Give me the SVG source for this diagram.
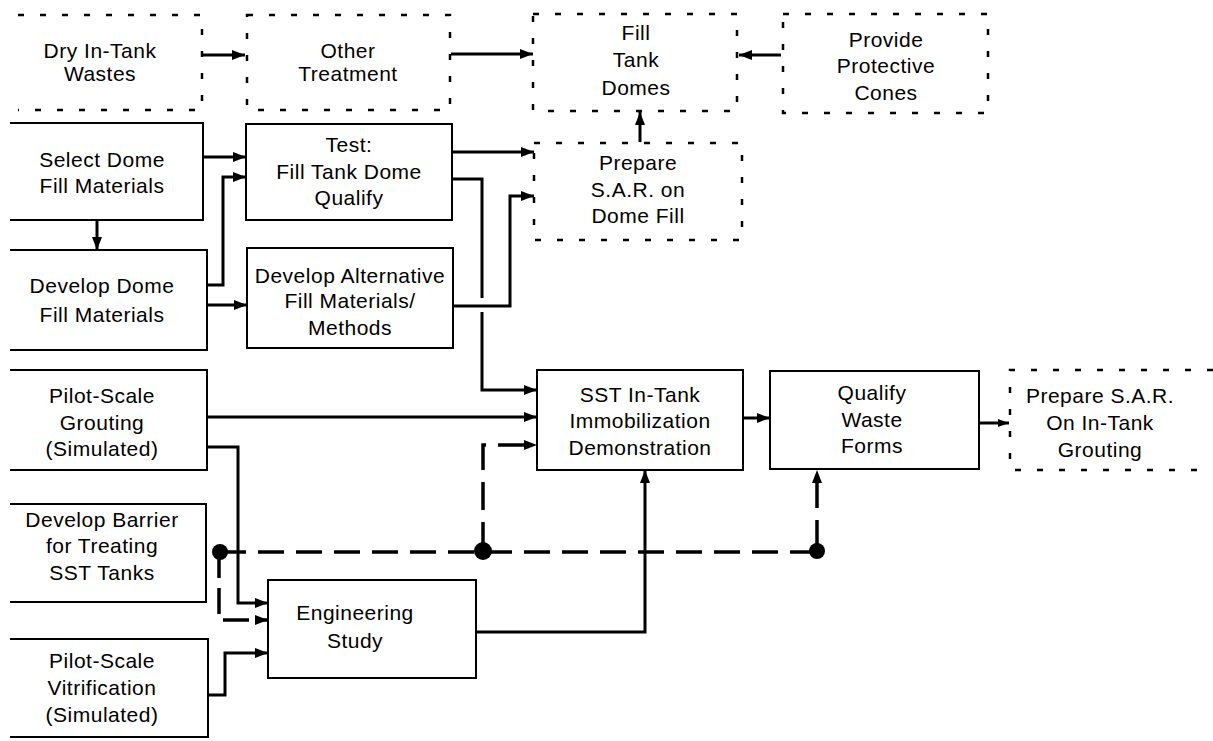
<svg xmlns="http://www.w3.org/2000/svg" width="1213" height="741" viewBox="0 0 1213 741">
<defs>
<marker id="ah" markerUnits="userSpaceOnUse" markerWidth="14" markerHeight="10" refX="13" refY="5" orient="auto">
<path d="M0,0 L13,5 L0,10 z" fill="#000"/>
</marker>
<marker id="ahs" markerUnits="userSpaceOnUse" markerWidth="12" markerHeight="8" refX="11" refY="4" orient="auto">
<path d="M0,0 L11,4 L0,8 z" fill="#000"/>
</marker>
<style>
.box{fill:#fff;stroke:#000;stroke-width:2}
.dbox{fill:none;stroke:#000;stroke-width:2.5;stroke-dasharray:6 16}
.c{fill:none;stroke:#000;stroke-width:3}
.dc{fill:none;stroke:#000;stroke-width:3.5;stroke-dasharray:26 12}
.a{marker-end:url(#ah)}
text{font-family:"Liberation Sans",Arial,sans-serif;font-size:21px;letter-spacing:0.5px;text-anchor:middle;fill:#000}
</style>
</defs>
<rect width="1213" height="741" fill="#fff"/>

<g id="connectors">
<path class="c a" d="M203 55 H245"/>
<path class="c a" d="M451 54 H533"/>
<path class="c a" d="M781 55 H739"/>
<path class="c a" d="M640 142 V112"/>
<path class="c a" d="M203 157 H246"/>
<path class="c a" d="M207 285 H223 V177 H246"/>
<path class="c a" d="M97 220 V250"/>
<path class="c a" d="M207 305 H247"/>
<path class="c a" d="M452 152 H534"/>
<path class="c" d="M452 179 H482 V298"/>
<path class="c a" d="M482 312 V390 H537"/>
<path class="c a" d="M453 306 H510 V196 H534"/>
<path class="c a" d="M207 417 H537"/>
<path class="c a" d="M743 418 H770"/>
<path class="c" style="marker-end:url(#ahs)" d="M979 423 H1009"/>
<path class="c a" d="M207 447 H238 V603 H268"/>
<path class="c a" d="M476 632 H645 V470"/>
<path class="c a" d="M208 695 H225 V653 H268"/>
<path class="dc" d="M220 552 H817"/>
<path class="dc a" d="M483 550 V445 H537" style="stroke-dasharray:28 12"/>
<path class="dc a" d="M817 550 V470" style="stroke-dasharray:30 12"/>
<path class="dc a" d="M219 552 V620 H268" style="stroke-dasharray:26 10"/>
<circle cx="220" cy="552" r="8"/>
<circle cx="483" cy="551" r="9"/>
<circle cx="817" cy="551" r="8"/>
</g>

<g id="dry">
<path class="dbox" d="M18 15 H202 V110 H18"/>
<text x="100" y="58">Dry In-Tank</text>
<text x="100" y="81">Wastes</text>
</g>
<g id="other">
<rect class="dbox" x="247" y="15" width="203" height="95"/>
<text x="348" y="58">Other</text>
<text x="348" y="81">Treatment</text>
</g>
<g id="filltank">
<rect class="dbox" x="533" y="14" width="204" height="97"/>
<text x="636" y="40">Fill</text>
<text x="636" y="67">Tank</text>
<text x="636" y="95">Domes</text>
</g>
<g id="cones">
<rect class="dbox" x="783" y="14" width="205" height="99"/>
<text x="886" y="47">Provide</text>
<text x="886" y="73">Protective</text>
<text x="886" y="100">Cones</text>
</g>
<g id="select">
<path class="box" d="M10 123 H203 V220 H10"/>
<text x="102" y="167">Select Dome</text>
<text x="102" y="193">Fill Materials</text>
</g>
<g id="test">
<rect class="box" x="246" y="124" width="206" height="96"/>
<text x="349" y="152">Test:</text>
<text x="349" y="179">Fill Tank Dome</text>
<text x="349" y="205">Qualify</text>
</g>
<g id="sardome">
<rect class="dbox" x="534" y="143" width="208" height="97"/>
<text x="638" y="170">Prepare</text>
<text x="638" y="197">S.A.R. on</text>
<text x="638" y="223">Dome Fill</text>
</g>
<g id="devdome">
<path class="box" d="M10 250 H207 V350 H10"/>
<text x="102" y="293">Develop Dome</text>
<text x="102" y="322">Fill Materials</text>
</g>
<g id="devalt">
<rect class="box" x="247" y="248" width="206" height="100"/>
<text x="350" y="283">Develop Alternative</text>
<text x="350" y="308">Fill Materials/</text>
<text x="350" y="335">Methods</text>
</g>
<g id="grouting">
<path class="box" d="M10 370 H207 V470 H10"/>
<text x="102" y="403">Pilot-Scale</text>
<text x="102" y="430">Grouting</text>
<text x="102" y="456">(Simulated)</text>
</g>
<g id="sst">
<rect class="box" x="537" y="370" width="206" height="100"/>
<text x="640" y="402">SST In-Tank</text>
<text x="640" y="428">Immobilization</text>
<text x="640" y="455">Demonstration</text>
</g>
<g id="qualify">
<rect class="box" x="770" y="371" width="209" height="98"/>
<text x="872" y="400">Qualify</text>
<text x="872" y="427">Waste</text>
<text x="872" y="453">Forms</text>
</g>
<g id="sargrout">
<path class="dbox" d="M1213 370 H1010 V470 H1213"/>
<text x="1100" y="403">Prepare S.A.R.</text>
<text x="1100" y="430">On In-Tank</text>
<text x="1100" y="457">Grouting</text>
</g>
<g id="barrier">
<path class="box" d="M10 504 H206 V602 H10"/>
<text x="102" y="527">Develop Barrier</text>
<text x="102" y="553">for Treating</text>
<text x="102" y="580">SST Tanks</text>
</g>
<g id="engineering">
<rect class="box" x="268" y="580" width="208" height="98"/>
<text x="355" y="620">Engineering</text>
<text x="355" y="648">Study</text>
</g>
<g id="vitrification">
<path class="box" d="M10 639 H208 V737 H10"/>
<text x="102" y="668">Pilot-Scale</text>
<text x="102" y="695">Vitrification</text>
<text x="102" y="722">(Simulated)</text>
</g>
</svg>
